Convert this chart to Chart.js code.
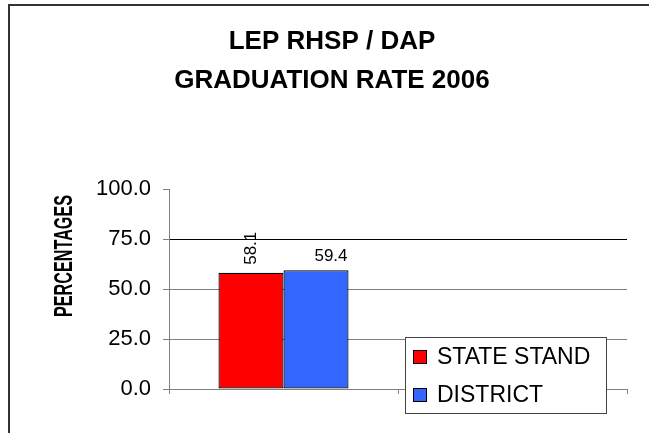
<!DOCTYPE html>
<html>
<head>
<meta charset="utf-8">
<title>LEP RHSP / DAP Graduation Rate 2006</title>
<script src="https://cdn.jsdelivr.net/npm/chart.js@4"></script>
<style>
  html, body { margin: 0; padding: 0; background: #fff; }
  canvas { display: block; }
</style>
</head>
<body>
<canvas id="chart" width="649" height="433"></canvas>
<script>
// data
const categories = ['2006', ''];
const seriesNames = ['STATE STAND', 'DISTRICT'];
const stateStand = [58.1, null];
const district = [59.4, null];
const seriesColors = ['#ff0000', '#3366ff'];
const yTicks = [0, 25, 50, 75, 100];
const titleLines = ['LEP RHSP / DAP', 'GRADUATION RATE 2006'];
const yTitle = 'PERCENTAGES';

Chart.defaults.font.family = "'Liberation Sans', Arial, sans-serif";
Chart.defaults.color = '#000';

// white page + dark frame (only left/top edges are inside the picture)
const framePlugin = {
  id: 'frame',
  beforeDraw(chart) {
    const ctx = chart.ctx;
    ctx.save();
    ctx.fillStyle = '#fff';
    ctx.fillRect(0, 0, chart.width, chart.height);
    ctx.strokeStyle = '#333';
    ctx.lineWidth = 2;
    ctx.strokeRect(9, 5, 700, 500);
    ctx.restore();
  }
};

// value labels above the bars
const labelRotation = [-90, 0];
const valueLabels = {
  id: 'valueLabels',
  afterDatasetsDraw(chart) {
    const ctx = chart.ctx;
    ctx.save();
    ctx.font = "17px 'Liberation Sans', Arial, sans-serif";
    ctx.fillStyle = '#000';
    chart.data.datasets.forEach((ds, i) => {
      const meta = chart.getDatasetMeta(i);
      meta.data.forEach((bar, j) => {
        const v = ds.data[j];
        if (v == null) return;
        const txt = v.toFixed(1);
        if (labelRotation[i] === -90) {
          ctx.save();
          ctx.translate(bar.x, bar.y - 8);
          ctx.rotate(-Math.PI / 2);
          ctx.textAlign = 'left';
          ctx.textBaseline = 'middle';
          ctx.fillText(txt, 0, 0);
          ctx.restore();
        } else {
          ctx.textAlign = 'right';
          ctx.textBaseline = 'bottom';
          ctx.fillText(txt, bar.x + bar.width / 2 - 1, bar.y - 5);
        }
      });
    });
    ctx.restore();
  }
};

// rotated y axis title, condensed and sitting a bit above the plot centre like the original
const axisTitle = {
  id: 'axisTitle',
  afterDraw(chart) {
    const ctx = chart.ctx;
    const y = chart.scales.y;
    ctx.save();
    ctx.translate(64, y.top + 67);
    ctx.rotate(-Math.PI / 2);
    ctx.font = "bold 26px 'Liberation Sans', Arial, sans-serif";
    const w = ctx.measureText(yTitle).width;
    ctx.scale(122 / w, 1);
    ctx.textAlign = 'center';
    ctx.textBaseline = 'middle';
    ctx.fillStyle = '#000';
    ctx.fillText(yTitle, 0, 1);
    ctx.restore();
  }
};

// boxed legend placed inside the plot, bottom right
const boxLegend = {
  id: 'boxLegend',
  afterDraw(chart) {
    const ctx = chart.ctx;
    const area = chart.chartArea;
    const w = 201, h = 76;
    const x0 = area.right - 21 - w;
    const y0 = area.bottom + 24 - h;
    ctx.save();
    ctx.fillStyle = '#fff';
    ctx.fillRect(x0, y0, w, h);
    ctx.strokeStyle = '#444';
    ctx.lineWidth = 1;
    ctx.strokeRect(x0 + 0.5, y0 + 0.5, w, h);
    ctx.font = "23px 'Liberation Sans', Arial, sans-serif";
    ctx.textAlign = 'left';
    ctx.textBaseline = 'middle';
    chart.data.datasets.forEach((ds, i) => {
      const cy = y0 + 20 + i * 38;
      ctx.fillStyle = ds.backgroundColor;
      ctx.fillRect(x0 + 8, cy - 7, 14, 14);
      ctx.strokeStyle = '#000';
      ctx.strokeRect(x0 + 8.5, cy - 6.5, 13, 13);
      ctx.fillStyle = '#000';
      ctx.fillText(ds.label, x0 + 32, cy + 1);
    });
    ctx.restore();
  }
};

new Chart(document.getElementById('chart'), {
  type: 'bar',
  data: {
    labels: categories,
    datasets: [
      { label: seriesNames[0], data: stateStand, backgroundColor: seriesColors[0],
        borderColor: '#000', borderWidth: 1.2, borderSkipped: false },
      { label: seriesNames[1], data: district, backgroundColor: seriesColors[1],
        borderColor: '#000', borderWidth: 1.2, borderSkipped: false }
    ]
  },
  options: {
    responsive: false,
    animation: false,
    events: [],
    layout: { padding: { left: 37, right: 22, top: 0, bottom: 0 } },
    datasets: { bar: { categoryPercentage: 0.568, barPercentage: 1.0 } },
    plugins: {
      legend: { display: false },
      tooltip: { enabled: false },
      title: {
        display: true,
        text: titleLines,
        color: '#000',
        font: { size: 26, weight: 'bold', lineHeight: 1.5 },
        padding: { top: 22, bottom: 89 }
      }
    },
    scales: {
      x: {
        ticks: { display: false },
        grid: { drawOnChartArea: false, tickLength: 5, color: '#808080', offset: true },
        border: { color: '#808080' },
        afterFit(scale) { scale.height = 44; }
      },
      y: {
        min: 0,
        max: 100,
        afterBuildTicks(scale) { scale.ticks = yTicks.map(v => ({ value: v })); },
        ticks: {
          padding: 12,
          font: { size: 22 },
          color: '#000',
          callback: v => Number(v).toFixed(1)
        },
        grid: {
          tickLength: 6,
          tickColor: '#808080',
          color: c => c.tick.value === 100 ? 'rgba(0,0,0,0)' : (c.tick.value === 75 ? '#000' : '#808080')
        },
        border: { color: '#808080' },
        afterFit(scale) { scale.width = 132; }
      }
    }
  },
  plugins: [framePlugin, valueLabels, axisTitle, boxLegend]
});
</script>
</body>
</html>
